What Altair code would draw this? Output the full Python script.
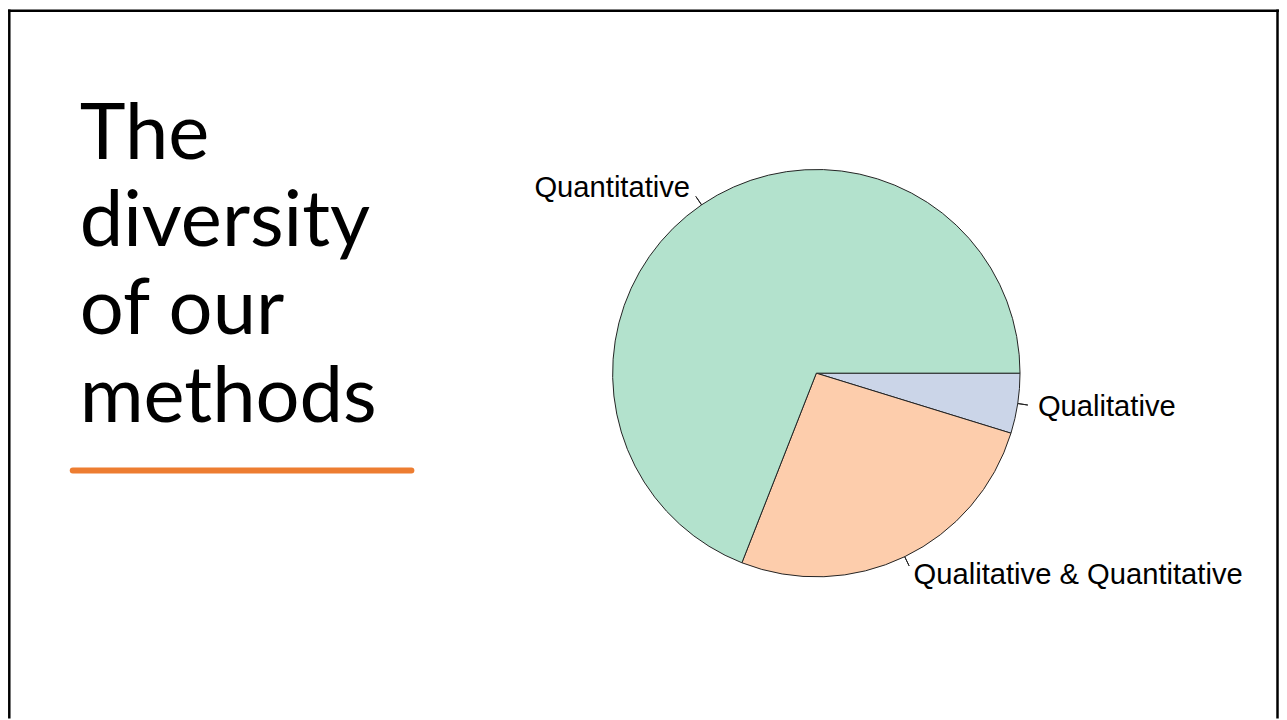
import math
import altair as alt
import pandas as pd

# ---- data ----
categories = ["Qualitative", "Qualitative & Quantitative", "Quantitative"]
counts = [2, 11, 29]
colors = ["#CBD5E8", "#FDCDAC", "#B3E2CD"]
title_lines = ["The", "diversity", "of our", "methods"]

total = sum(counts)
starts = []
acc = 0
for c in counts:
    starts.append(acc)
    acc += c
ends = [s + c for s, c in zip(starts, counts)]
mids = [(s + e) / 2 for s, e in zip(starts, ends)]
ang0 = math.pi / 2  # start at 3 o'clock, then clockwise on screen
sides = ["left" if math.sin(ang0 + 2 * math.pi * m / total) >= 0 else "right" for m in mids]

df = pd.DataFrame({
    "method": categories,
    "count": counts,
    "start": starts,
    "end": ends,
    "mid": mids,
    "mid2": [m + 1e-4 for m in mids],
    "side": sides,
})

theta_scale = alt.Scale(domain=[0, total], range=[ang0, ang0 + 2 * math.pi])
color_scale = alt.Scale(domain=categories, range=colors)

CX, CY, R = 811.5, 365.2, 204.5

pie = alt.Chart(df).mark_arc(radius=R, stroke="#222222", strokeWidth=1).encode(
    theta=alt.Theta("start:Q", scale=theta_scale, stack=None),
    theta2="end:Q",
    color=alt.Color("method:N", scale=color_scale, legend=None),
    x=alt.value(CX),
    y=alt.value(CY),
)

ticks = alt.Chart(df).mark_arc(
    radius=R * 1.05, radius2=R, stroke="#222222", strokeWidth=1, fillOpacity=0
).encode(
    theta=alt.Theta("mid:Q", scale=theta_scale, stack=None),
    theta2="mid2:Q",
    x=alt.value(CX),
    y=alt.value(CY),
)

def labels(side, align):
    return alt.Chart(df).transform_filter(alt.datum.side == side).mark_text(
        radius=R * 1.1, font="Liberation Sans", fontSize=29.3, align=align,
        baseline="middle", color="black",
    ).encode(
        theta=alt.Theta("mid:Q", scale=theta_scale, stack=None),
        text="method:N",
        x=alt.value(CX),
        y=alt.value(CY),
    )

deco = alt.Chart(alt.Data(values=[{}]))

title = deco.mark_text(
    font="Lato", fontSize=78, align="left", baseline="alphabetic",
    lineHeight=88, color="black",
).encode(text=alt.value(title_lines), x=alt.value(72), y=alt.value(150))

underline = deco.mark_rule(color="#ED7D31", strokeWidth=6, strokeCap="round").encode(
    x=alt.value(65), x2=alt.value(405), y=alt.value(463)
)

border_top = deco.mark_rule(color="black", strokeWidth=2.5).encode(
    x=alt.value(0), x2=alt.value(1276), y=alt.value(1.3)
)
border_left = deco.mark_rule(color="black", strokeWidth=2.5).encode(
    x=alt.value(1.3), y=alt.value(0), y2=alt.value(712)
)
border_right = deco.mark_rule(color="black", strokeWidth=2.5).encode(
    x=alt.value(1274.5), y=alt.value(0), y2=alt.value(712)
)

chart = alt.layer(
    pie, ticks, labels("left", "left"), labels("right", "right"),
    title, underline, border_top, border_left, border_right,
).properties(
    width=1276, height=711, padding=0, autosize=alt.AutoSizeParams(type="none")
).configure_view(stroke=None)

chart.save("out.html", embed_options={"renderer": "svg", "actions": False})
